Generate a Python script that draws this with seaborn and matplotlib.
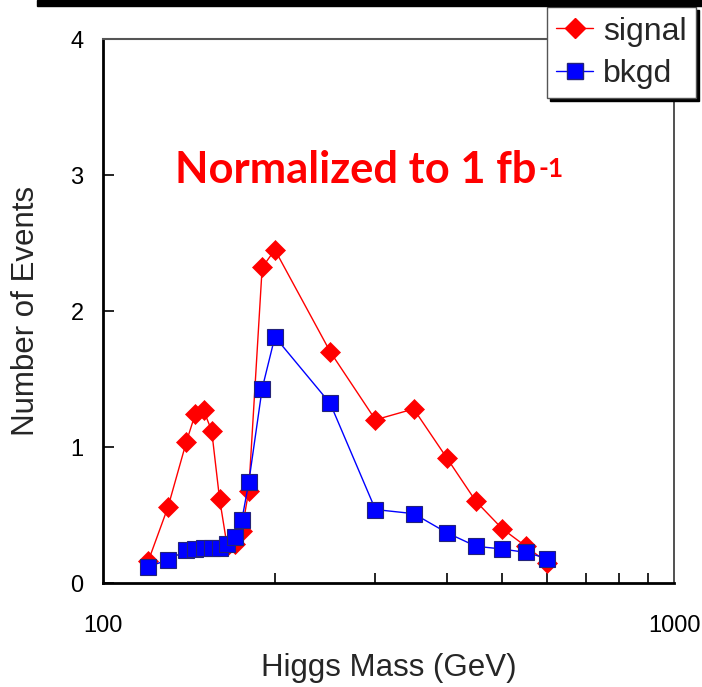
import matplotlib
matplotlib.use("Agg")
import matplotlib.pyplot as plt
from matplotlib.lines import Line2D
from matplotlib.patches import Rectangle
from matplotlib.ticker import LogLocator, NullFormatter, FixedLocator
import numpy as np
import pandas as pd
import seaborn as sns

# Higgs mass points (GeV)
mass = [120, 130, 140, 145, 150, 155, 160, 165, 170, 175, 180,
        190, 200, 250, 300, 350, 400, 450, 500, 550, 600]
# Expected events per 1 fb^-1
signal = [0.16, 0.56, 1.04, 1.24, 1.27, 1.12, 0.62, 0.27, 0.29, 0.38, 0.68,
          2.32, 2.45, 1.70, 1.20, 1.28, 0.92, 0.60, 0.40, 0.27, 0.15]
bkgd = [0.12, 0.17, 0.24, 0.25, 0.26, 0.26, 0.26, 0.29, 0.34, 0.46, 0.74,
        1.43, 1.81, 1.32, 0.54, 0.51, 0.37, 0.27, 0.25, 0.225, 0.18]
series_names = ["signal", "bkgd"]
y_ticks = [0, 1, 2, 3, 4]
x_tick_labels = ["100", "1000"]

df = pd.DataFrame({
    "mass": mass + mass,
    "events": signal + bkgd,
    "series": [series_names[0]] * len(mass) + [series_names[1]] * len(mass),
})

sns.set_style("ticks")
plt.rcParams["font.family"] = ["Liberation Sans", "DejaVu Sans"]

W, H = 702, 687
fig = plt.figure(figsize=(W / 100, H / 100), dpi=100)
left, right, top, bottom = 103, 674, 39, 583
ax = fig.add_axes([left / W, 1 - bottom / H, (right - left) / W, (bottom - top) / H])

sns.lineplot(data=df[df.series == "signal"], x="mass", y="events", ax=ax,
             color="#ff0000", lw=1.0, marker="D", markersize=10.5,
             markeredgecolor="#ff0000", markeredgewidth=0.5, legend=False)
sns.lineplot(data=df[df.series == "bkgd"], x="mass", y="events", ax=ax,
             color="#0000ff", lw=1.0, marker="s", markersize=11.5,
             markeredgecolor="#23237a", markeredgewidth=0.8, legend=False)

ax.set_xscale("log")
ax.set_xlim(100, 1000)
ax.set_ylim(0, 4)
ax.xaxis.set_major_locator(FixedLocator([100, 1000]))
ax.set_xticklabels(x_tick_labels)
ax.xaxis.set_minor_locator(LogLocator(base=10, subs=np.arange(2, 10)))
ax.xaxis.set_minor_formatter(NullFormatter())
ax.set_yticks(y_ticks)
ax.set_yticklabels([str(v) for v in y_ticks])

ax.tick_params(axis="both", which="both", direction="in", color="black",
               width=1.2, labelsize=17, labelcolor="black")
ax.tick_params(axis="y", length=8, pad=14)
ax.tick_params(axis="x", which="major", length=0, pad=23)
ax.tick_params(axis="x", which="minor", length=7)
ax.yaxis.set_minor_locator(plt.NullLocator())

for side in ("left", "bottom"):
    ax.spines[side].set_linewidth(2.0)
    ax.spines[side].set_color("black")
ax.spines["top"].set_linewidth(1.5)
ax.spines["top"].set_color("#555555")
ax.spines["right"].set_linewidth(1.2)
ax.spines["right"].set_color("#333333")
ax.grid(False)

ax.set_xlabel("Higgs Mass (GeV)", fontsize=22.5)
ax.set_ylabel("Number of Events", fontsize=22.5)
ax.xaxis.set_label_coords(0.5, -0.128)
ax.yaxis.set_label_coords(-0.108, 0.5)

# Annotation inside the plot: "Normalized to 1 fb^-1"
fig.text(175 / W, 1 - 183 / H, "Normalized to 1 fb", color="#ff0000",
         fontfamily="Lato", fontweight="bold", fontsize=31.3,
         va="baseline", ha="left")
fig.text(538 / W, 1 - 177 / H, "-1", color="#ff0000", fontfamily="Lato",
         fontweight="bold", fontsize=19, va="baseline", ha="left")

# Legend
handles = [
    Line2D([], [], color="#ff0000", lw=1.0, marker="D", markersize=10.5,
           markeredgecolor="#ff0000"),
    Line2D([], [], color="#0000ff", lw=1.0, marker="s", markersize=11.5,
           markeredgecolor="#23237a"),
]
leg = ax.legend(handles, series_names, loc="upper right",
                bbox_to_anchor=(696 / W, 1 - 7 / H), bbox_transform=fig.transFigure,
                fontsize=23, frameon=True, fancybox=False, framealpha=1,
                edgecolor="#555555", handlelength=1.15, handletextpad=0.3,
                borderpad=0.3, labelspacing=0.38, borderaxespad=0,
                shadow={"color": "black", "alpha": 1})
leg.get_frame().set_linewidth(1.0)

# Heavy rule across the top edge
fig.patches.append(Rectangle((37 / W, 1 - 6 / H), 1, 6 / H,
                             transform=fig.transFigure, color="black", zorder=0))

fig.savefig("out.png", dpi=100)
